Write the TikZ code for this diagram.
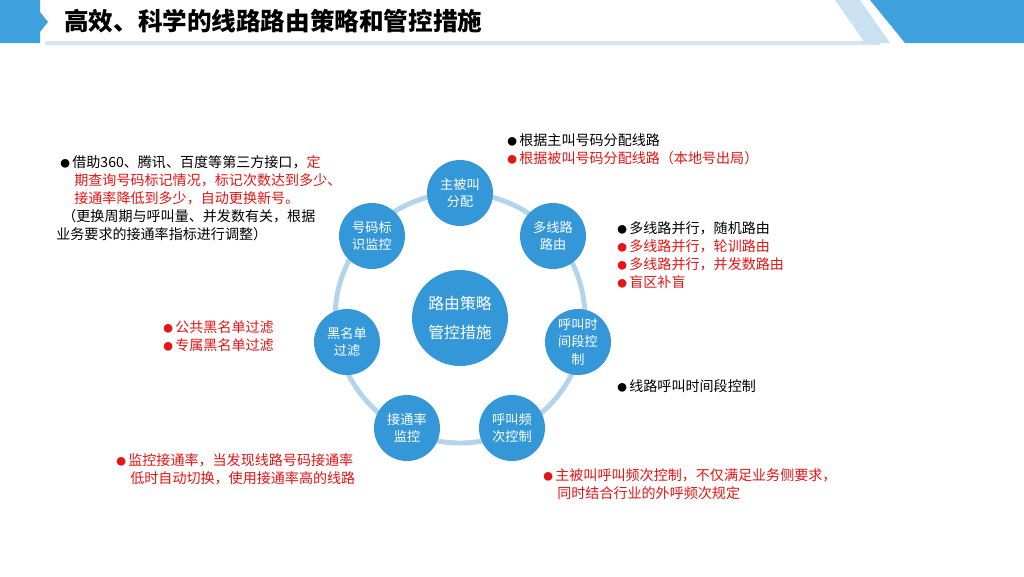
\documentclass[tikz,border=0pt]{standalone}
\usepackage{fontspec}
\setmainfont{Noto Sans CJK SC}
\definecolor{ballblue}{RGB}{52,152,216}
\definecolor{ringblue}{RGB}{180,212,236}
\definecolor{barblue}{RGB}{62,160,220}
\definecolor{redtext}{RGB}{230,20,20}
\newcommand{\dotmark}{{\fontsize{5.5}{6}\selectfont●}\,}
\tikzset{
	ball/.style={circle, fill=ballblue, text=white, minimum size=1.32cm, inner sep=0pt, align=center, font=\fontsize{7.5}{10}\selectfont},
	note/.style={anchor=west, inner sep=0pt, font=\fontsize{8}{10}\selectfont},
}
\begin{document}
\begin{tikzpicture}[x=0.02cm, y=-0.02cm]
	\useasboundingbox[fill=white] (0, 0) rectangle (1024, 576);
	% header
	\fill[barblue] (0, 0) -- (40, 0) -- (40, 12) -- (48, 22) -- (40, 32) -- (40, 43) -- (0, 43) -- cycle;
	\fill[ringblue!60] (45, 41) rectangle (880, 45);
	\fill[ringblue!70] (835, 0) -- (860, 0) -- (890, 43) -- (865, 43) -- cycle;
	\fill[barblue] (870, 0) -- (1024, 0) -- (1024, 43) -- (905, 43) -- cycle;
	\node[anchor=west, font=\fontsize{14}{16}\selectfont\bfseries] (title) at (58, 21) {高效、科学的线路路由策略和管控措施};
	% ring
	\draw[ringblue, line width=2.8pt] (460, 318) circle (125);
	\node[ball, minimum size=1.92cm, font=\fontsize{9}{16}\selectfont] (hub) at (460, 318) {路由策略\\管控措施};
	\node[ball] (assign) at (460, 193) {主被叫\\分配};
	\node[ball] (multi) at (553, 236) {多线路\\路由};
	\node[ball] (period) at (578, 342) {呼叫时\\间段控\\制};
	\node[ball] (freq) at (512, 428) {呼叫频\\次控制};
	\node[ball] (rate) at (407, 428) {接通率\\监控};
	\node[ball] (black) at (347, 342) {黑名单\\过滤};
	\node[ball] (mark) at (372, 236) {号码标\\识监控};
	% notes
	\node[note] (a1) at (507, 140) {\dotmark 根据主叫号码分配线路};
	\node[note, text=redtext] (a2) at (507, 158) {\dotmark 根据被叫号码分配线路（本地号出局）};
	\node[note] (m1) at (617, 228) {\dotmark 多线路并行，随机路由};
	\node[note, text=redtext] (m2) at (617, 246) {\dotmark 多线路并行，轮训路由};
	\node[note, text=redtext] (m3) at (617, 264) {\dotmark 多线路并行，并发数路由};
	\node[note, text=redtext] (m4) at (617, 282) {\dotmark 盲区补盲};
	\node[note] (p1) at (617, 386) {\dotmark 线路呼叫时间段控制};
	\node[note, text=redtext] (f1) at (543, 475) {\dotmark 主被叫呼叫频次控制，不仅满足业务侧要求，};
	\node[note, text=redtext] (f2) at (557, 493) {同时结合行业的外呼频次规定};
	\node[note, text=redtext] (r1) at (116, 460) {\dotmark 监控接通率，当发现线路号码接通率};
	\node[note, text=redtext] (r2) at (130, 478) {低时自动切换，使用接通率高的线路};
	\node[note, text=redtext] (b1) at (163, 327) {\dotmark 公共黑名单过滤};
	\node[note, text=redtext] (b2) at (163, 345) {\dotmark 专属黑名单过滤};
	\node[note] (k1) at (60, 162) {\dotmark 借助360、腾讯、百度等第三方接口，\textcolor{redtext}{定}};
	\node[note, text=redtext] (k2) at (74, 180) {期查询号码标记情况，标记次数达到多少、};
	\node[note, text=redtext] (k3) at (74, 198) {接通率降低到多少，自动更换新号。};
	\node[note] (k4) at (62, 216) {（更换周期与呼叫量、并发数有关，根据};
	\node[note] (k5) at (56, 234) {业务要求的接通率指标进行调整）};
\end{tikzpicture}
\end{document}
